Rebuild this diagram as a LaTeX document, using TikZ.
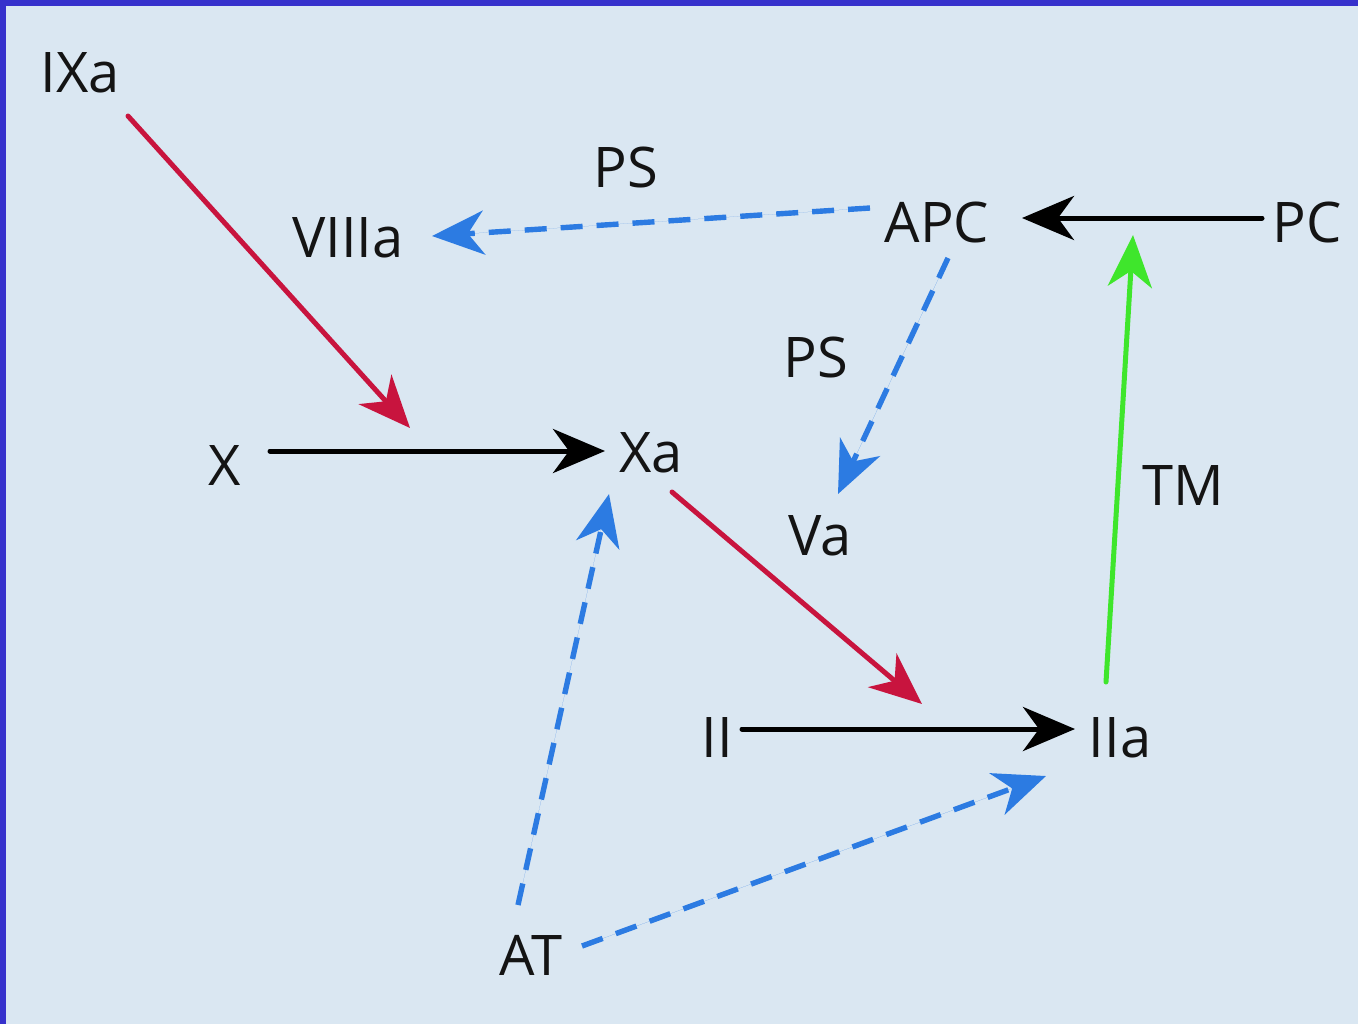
\documentclass[tikz,border=0pt]{standalone}
\usepackage{fontspec}
\setmainfont{Open Sans}
\usetikzlibrary{arrows.meta}
\definecolor{bgc}{HTML}{DAE7F2}
\definecolor{framec}{HTML}{3631CC}
\definecolor{redc}{HTML}{C8143E}
\definecolor{bluec}{HTML}{2C7BE2}
\definecolor{greenc}{HTML}{3FE62C}
\definecolor{txtc}{HTML}{141414}
\tikzset{
  lbl/.style={anchor=base, inner sep=0pt, font=\fontsize{28pt}{30pt}\selectfont, text=txtc},
  arr/.style={-{Stealth[length=26pt,width=22pt,inset=8pt]}},
  solidline/.style={arr, line width=2.5pt, line cap=round},
  blackarr/.style={solidline, draw=black, fill=black},
  redarr/.style={solidline, draw=redc, fill=redc},
  greenarr/.style={solidline, draw=greenc, fill=greenc},
  bluearr/.style={arr, line width=2.7pt, draw=bluec, fill=bluec, dash pattern=on 11pt off 7pt},
}
\begin{document}
\begin{tikzpicture}[x=0.5pt, y=-0.5pt]
\useasboundingbox (0,0) rectangle (1358,1024);
\fill[bgc] (0,0) rectangle (1358,1024);
\fill[framec] (0,0) rectangle (1358,6);
\fill[framec] (0,0) rectangle (6,1024);

% nodes
\node[lbl] (IXa) at (80,92) {IXa};
\node[lbl] (PS1) at (626,187) {PS};
\node[lbl] (VIIIa) at (348,257) {VIIIa};
\node[lbl] (APC) at (937,242) {APC};
\node[lbl] (PC) at (1307,242) {PC};
\node[lbl] (PS2) at (816,377) {PS};
\node[lbl] (X) at (225,485) {X};
\node[lbl] (Xa) at (651,472) {Xa};
\node[lbl] (TM) at (1183,505) {TM};
\node[lbl] (Va) at (820,555) {Va};
\node[lbl] (II) at (717,757) {II};
\node[lbl] (IIa) at (1120,757) {IIa};
\node[lbl] (AT) at (531,975) {AT};

% free ends (arrows acting on reactions)
\coordinate (tipIX) at (410,428);
\coordinate (tipXa) at (922,704);
\coordinate (tipTM) at (1133,235);

% black reaction arrows
\draw[blackarr] ([shift={(-45,-24)}]PC.base) -- ([shift={(85,-24)}]APC.base);
\draw[blackarr] ([shift={(45,-34)}]X.base) -- ([shift={(-46,-21)}]Xa.base);
\draw[blackarr] ([shift={(25,-28)}]II.base) -- ([shift={(-45,-28)}]IIa.base);

% red arrows
\draw[redarr] ([shift={(48,24)}]IXa.base) -- (tipIX);
\draw[redarr] ([shift={(21,20)}]Xa.base) -- (tipXa);

% green arrow
\draw[greenarr] ([shift={(-14,-75)}]IIa.base) -- (tipTM);

% blue dashed arrows
\draw[bluearr] ([shift={(-67,-34)}]APC.base) -- ([shift={(84,-21)}]VIIIa.base);
\draw[bluearr] ([shift={(11,16)}]APC.base) -- ([shift={(18,-61)}]Va.base);
\draw[bluearr] ([shift={(-13,-70)}]AT.base) -- ([shift={(-42,22)}]Xa.base);
\draw[bluearr] ([shift={(51,-29)}]AT.base) -- ([shift={(-74,19)}]IIa.base);
\end{tikzpicture}
\end{document}
